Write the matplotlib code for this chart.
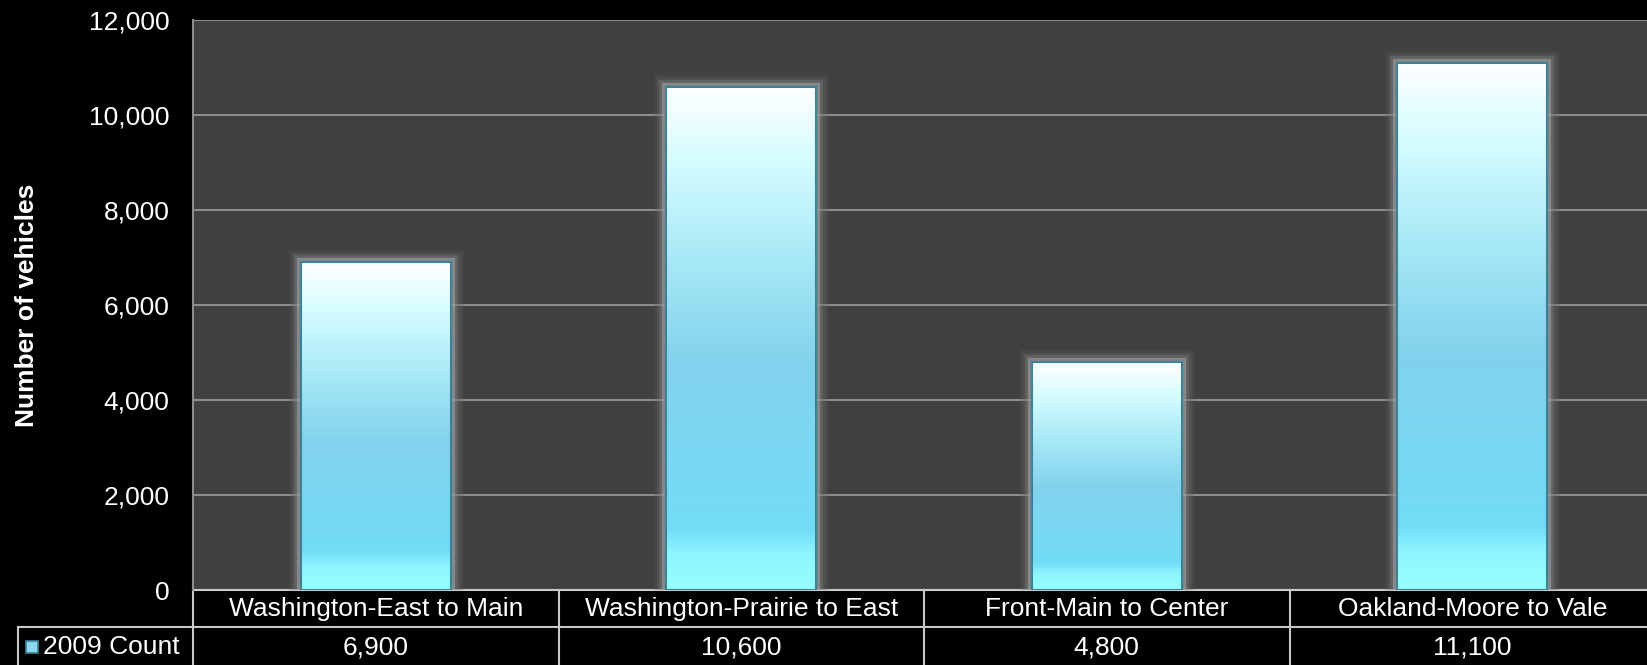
import numpy as np
import matplotlib
matplotlib.use("Agg")
import matplotlib.pyplot as plt
from matplotlib.colors import LinearSegmentedColormap
from matplotlib.patches import Rectangle
import matplotlib.patheffects as pe
from matplotlib.transforms import blended_transform_factory

plt.rcParams['font.family'] = ['Liberation Sans', 'DejaVu Sans']

# data
categories = ['Washington-East to Main', 'Washington-Prairie to East',
              'Front-Main to Center', 'Oakland-Moore to Vale']
counts = [6900, 10600, 4800, 11100]
series_name = '2009 Count'
yticks = [0, 2000, 4000, 6000, 8000, 10000, 12000]

FS = 19
W, H = 1647, 665
fig = plt.figure(figsize=(W / 100, H / 100), dpi=100, facecolor='black')
# plot area runs a little past the right edge of the image, like the original
ax = fig.add_axes([193 / W, (H - 590) / H, 1462 / W, 570 / H])
ax.set_facecolor('#404040')

for s in ['top', 'right', 'bottom']:
    ax.spines[s].set_visible(False)
ax.spines['left'].set_color('#8c8c8c')
ax.spines['left'].set_linewidth(1.5)

ax.set_yticks(yticks)
ax.set_yticklabels([f'{v:,}' for v in yticks], color='white', fontsize=FS)
ax.tick_params(axis='y', length=0, pad=17)
ax.set_xticks([])
ax.yaxis.grid(True, color='#8c8c8c', linewidth=1.5)
ax.set_axisbelow(True)
ax.set_ylabel('Number of vehicles', color='white', fontsize=FS,
              fontweight='bold', labelpad=36)

cmap = LinearSegmentedColormap.from_list('bar', [
    (0.0, '#96ffff'), (0.07, '#8ef6ff'), (0.12, '#72dcf7'),
    (0.45, '#82d2ec'), (0.65, '#a6e8f6'), (0.85, '#d4fcff'), (1.0, '#ffffff')])
grad = np.linspace(0, 1, 256).reshape(-1, 1)

glow = [pe.Stroke(linewidth=18, foreground='#606060', alpha=0.2),
        pe.Stroke(linewidth=14, foreground='#707070', alpha=0.25),
        pe.Stroke(linewidth=10, foreground='#8a8a8a', alpha=0.3),
        pe.Stroke(linewidth=6, foreground='#a8b0b4', alpha=0.5),
        pe.Normal()]

bars = ax.bar(range(len(categories)), counts, width=0.41,
              color='#80d4ee', edgecolor='#3f8296', linewidth=1.5, zorder=3)
for b in bars:
    b.set_path_effects(glow)
    x0, w, h = b.get_x(), b.get_width(), b.get_height()
    im = ax.imshow(grad, cmap=cmap, origin='lower', aspect='auto',
                   extent=[x0, x0 + w, 0, h], zorder=3.5)
    im.set_clip_path(b)
    ax.add_patch(Rectangle((x0, 0), w, h, fill=False, edgecolor='#3f8296',
                           linewidth=1.5, zorder=4))
ax.set_xlim(-0.5, len(categories) - 0.5)
ax.set_ylim(0, 12000)

# data table below the plot
tr = blended_transform_factory(ax.transData, fig.transFigure)
def fy(py):
    return (H - py) / H

line_kw = dict(color='#c8c8c8', linewidth=1.5, clip_on=False)
n = len(categories)
ax.plot([-0.5, n - 0.5], [fy(590), fy(590)], transform=tr, **line_kw)
fig.add_artist(plt.Line2D([18 / W, 1], [fy(627), fy(627)], **line_kw))
fig.add_artist(plt.Line2D([18 / W, 18 / W], [fy(627), 0], **line_kw))
for i in range(n):
    ax.plot([i - 0.5, i - 0.5], [fy(590), 0], transform=tr, **line_kw)
    ax.text(i, fy(609), categories[i], transform=tr, ha='center', va='center',
            color='white', fontsize=FS)
    ax.text(i, fy(647), f'{counts[i]:,}', transform=tr, ha='center',
            va='center', color='white', fontsize=FS)

fig.add_artist(Rectangle((26 / W, fy(653)), 12 / W, 12 / H,
                         transform=fig.transFigure, facecolor='#8ad8ee',
                         edgecolor='#3f8296', linewidth=1.2))
fig.text(43 / W, fy(647), series_name, ha='left', va='center',
         color='white', fontsize=FS)

fig.savefig('out.png', dpi=100, facecolor='black')
